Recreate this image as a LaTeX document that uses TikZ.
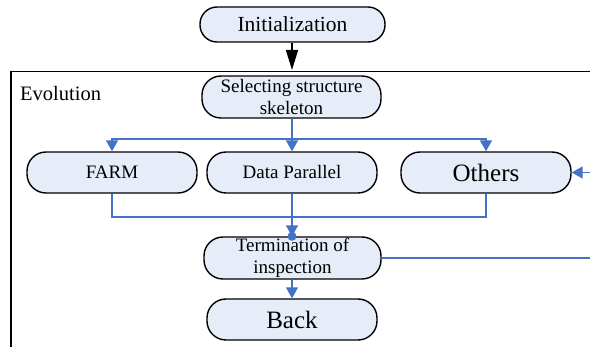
\documentclass[tikz,border=0pt]{standalone}
\usepackage{fontspec}
\setmainfont{Liberation Serif}
\usetikzlibrary{arrows.meta}
\definecolor{boxfill}{RGB}{231,237,248}
\definecolor{flowblue}{RGB}{68,114,196}

\begin{document}
\begin{tikzpicture}[x=1pt,y=1pt]
\tikzstyle{every node}+=[inner sep=0pt]
\tikzstyle{stage}=[draw=black, line width=1.4pt, fill=boxfill, rounded corners=19pt, minimum width=170pt, minimum height=41pt, align=center, font=\fontsize{19}{22}\selectfont]
\tikzstyle{flow}=[draw=flowblue, line width=1.5pt]
\tikzstyle{flowarrow}=[flow, -{Triangle[length=11pt,width=12pt]}]
\useasboundingbox (0,0) rectangle (590,-347);
% evolution frame
\draw [black, line width=1.5pt] (590,-71.5) -- (11,-71.5) -- (11,-347);
\node [anchor=base west, font=\fontsize{20.5}{24}\selectfont] (evo) at (20,-101) {Evolution};
% stages
\node [stage, minimum width=185pt, minimum height=35pt, rounded corners=17pt, font=\fontsize{21.5}{24}\selectfont] (init) at (292.5,-24.5) {Initialization};
\node [stage, minimum width=179pt, minimum height=42pt] (select) at (291.5,-97) {Selecting structure\\skeleton};
\node [stage] (farm) at (112,-172.5) {FARM};
\node [stage] (data) at (292,-172.5) {Data Parallel};
\node [stage, font=\fontsize{25}{28}\selectfont] (others) at (486,-172.5) {Others};
\node [stage, minimum width=177pt, minimum height=42pt] (term) at (292.5,-258) {Termination of\\inspection};
\node [stage, font=\fontsize{25}{28}\selectfont] (back) at (292,-319.5) {Back};
% connectors
\coordinate (frametop) at (292,-70);
\coordinate (split) at (292,-139);
\coordinate (merge) at (292,-217);
\coordinate (rightin) at (590,-172.5);
\coordinate (rightout) at (590,-258);
\draw [black, line width=1.5pt, -{Triangle[length=20pt,width=12pt]}] (init.south -| frametop) -- (frametop);
\draw [flow] (select.south -| split) -- (split);
\draw [flowarrow] (split) -| (farm.north);
\draw [flowarrow] (split) -- (data.north);
\draw [flowarrow] (split) -| (others.north);
\draw [flow] (farm.south) |- (merge);
\draw [flow] (others.south) |- (merge);
\draw [flowarrow] (data.south) -- (term.north -| data.south);
\node [circle, fill=flowblue, minimum size=9pt] (joint) at (term.north -| data.south) {};
\draw [flowarrow] (term.south -| back.north) -- (back.north);
\draw [flow] (term.east) -- (rightout);
\draw [flowarrow] (rightin) -- (others.east);
\end{tikzpicture}
\end{document}
